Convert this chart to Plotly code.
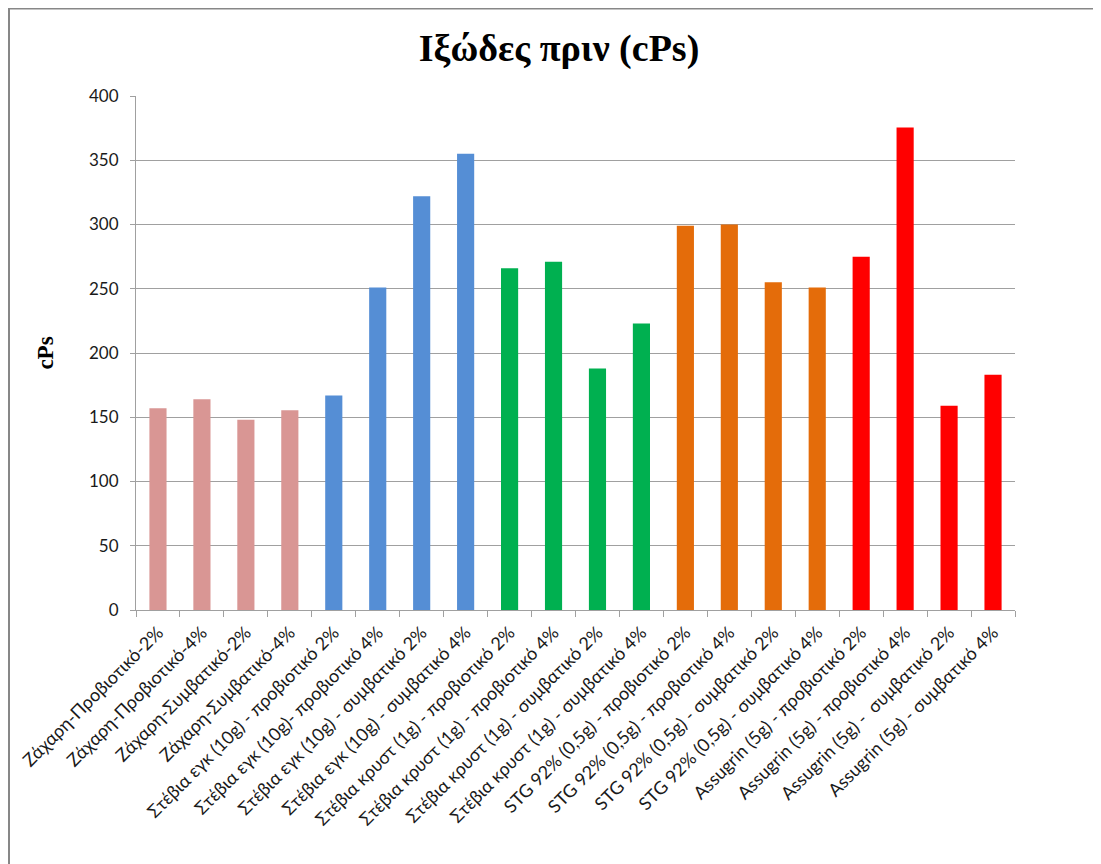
import plotly.graph_objects as go

categories = [
    "Ζάχαρη-Προβιοτικό-2%", "Ζάχαρη-Προβιοτικό-4%",
    "Ζάχαρη-Συμβατικό-2%", "Ζάχαρη-Συμβατικό-4%",
    "Στέβια εγκ (10g) - προβιοτικό 2%", "Στέβια εγκ (10g)- προβιοτικό 4%",
    "Στέβια εγκ (10g) - συμβατικό 2%", "Στέβια εγκ (10g) - συμβατικό 4%",
    "Στέβια κρυστ (1g) - προβιοτικό 2%", "Στέβια κρυστ (1g) - προβιοτικό 4%",
    "Στέβια κρυστ (1g) - συμβατικό 2%", "Στέβια κρυστ (1g) - συμβατικό 4%",
    "STG 92% (0,5g) - προβιοτικό 2%", "STG 92% (0,5g) - προβιοτικό 4%",
    "STG 92% (0,5g) - συμβατικό 2%", "STG 92% (0,5g) - συμβατικό 4%",
    "Assugrin (5g) - προβιοτικό 2%", "Assugrin (5g) - προβιοτικό 4%",
    "Assugrin (5g) -  συμβατικό 2%", "Assugrin (5g) - συμβατικό 4%",
]
values = [157, 164, 148, 155.5, 167, 251, 322, 355, 266, 271, 188, 223,
          299, 300, 255, 251, 275, 375.5, 159, 183]
group_colors = ["#D99694"] * 4 + ["#558ED5"] * 4 + ["#00B050"] * 4 + ["#E46C0A"] * 4 + ["#FF0000"] * 4
y_ticks = [0, 50, 100, 150, 200, 250, 300, 350, 400]

fig = go.Figure()
fig.add_trace(go.Bar(
    x=categories, y=values,
    marker=dict(color=group_colors, line=dict(width=0)),
    showlegend=False,
))

# page is offset by the 8px body margin
OFF = 8
W, H = 1101 - OFF, 864 - OFF
L = 136 - OFF
T = 96 - OFF
R = W - (1015 - OFF)
B = H - (610 - OFF)
pw, ph = W - L - R, H - T - B

def px_x(p):
    return (p - L) / pw

def px_y(p):
    return (H - B - p) / ph

fig.update_layout(
    width=W, height=H,
    margin=dict(l=L, r=R, t=T, b=B, autoexpand=False),
    paper_bgcolor="white", plot_bgcolor="white",
    bargap=0.61,
    title=dict(text="<b>Ιξώδες πριν (cPs)</b>", x=(559 - OFF) / W, xanchor="center",
               y=1 - (48 - OFF) / H, yanchor="middle",
               font=dict(family="Liberation Serif", size=38, color="black")),
    font=dict(family="Lato", color="#1a1a1a"),
    xaxis=dict(
        tickangle=-45, tickfont=dict(family="Lato", size=18, color="#1a1a1a"),
        showline=True, linecolor="#A0A0A0", linewidth=1,
        ticks="outside", ticklen=6, tickcolor="#A0A0A0", tickson="boundaries",
        ticklabelstandoff=4,
        showgrid=False, automargin=False,
    ),
    yaxis=dict(
        range=[0, 400], tickvals=y_ticks,
        tickfont=dict(family="Lato", size=17, color="#1a1a1a"),
        showline=True, linecolor="#A0A0A0", linewidth=1,
        ticks="outside", ticklen=5, tickcolor="#A0A0A0",
        ticklabelstandoff=8,
        showgrid=True, gridcolor="#A0A0A0", gridwidth=1,
        zeroline=False, automargin=False,
        title=dict(text="<b>cPs</b>", font=dict(family="Liberation Serif", size=23, color="black"),
                   standoff=28),
    ),
    shapes=[
        dict(type="line", xref="paper", yref="paper",
             x0=px_x(0), x1=px_x(W), y0=px_y(0.5), y1=px_y(0.5),
             line=dict(color="#878787", width=2)),
        dict(type="line", xref="paper", yref="paper",
             x0=px_x(1), x1=px_x(1), y0=px_y(0), y1=px_y(H),
             line=dict(color="#878787", width=2)),
    ],
)

fig.write_html("out.html")
